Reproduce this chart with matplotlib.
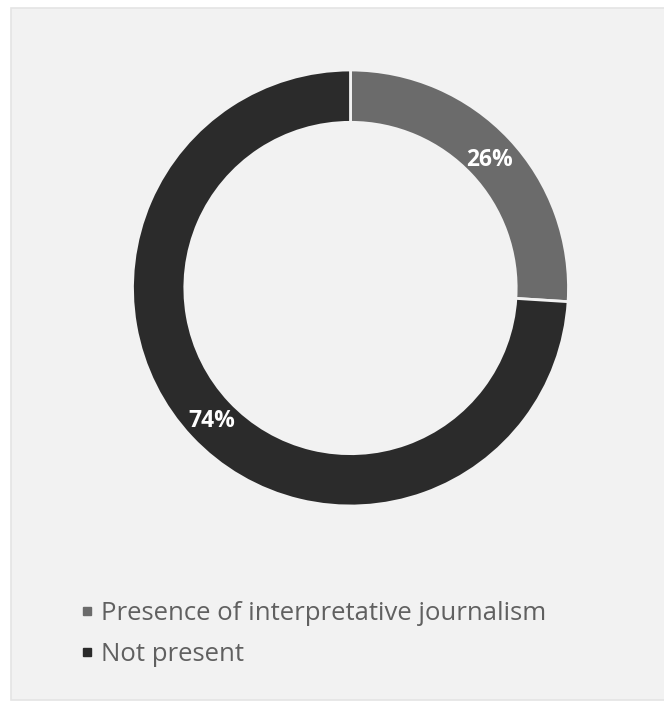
import matplotlib
matplotlib.use("Agg")
import matplotlib.pyplot as plt
from matplotlib.patches import Rectangle
from matplotlib.lines import Line2D
import numpy as np

# data
categories = ["Presence of interpretative journalism", "Not present"]
shares = [26, 74]
colors = ["#6b6b6b", "#2b2b2b"]

plt.rcParams["font.family"] = ["Open Sans", "DejaVu Sans"]

W, H = 664, 702
fig = plt.figure(figsize=(W / 100, H / 100), dpi=100)
fig.patch.set_facecolor("white")

# light grey chart area
fig.patches.append(Rectangle((11 / W, 1 - 700 / H), (W + 10) / W, (700 - 8) / H,
                             transform=fig.transFigure, facecolor="#f2f2f2",
                             edgecolor="#e4e4e4", linewidth=1.2, zorder=-5))

cx, cy, r = 350.5, 288, 218
ax = fig.add_axes([(cx - r) / W, 1 - (cy + r) / H, 2 * r / W, 2 * r / H])
ax.set_zorder(2)
ax.set_facecolor("none")

wedges, texts = ax.pie(shares, colors=colors, startangle=90, counterclock=False,
                       radius=1.0,
                       wedgeprops=dict(width=0.24, edgecolor="#f2f2f2", linewidth=2))
ax.set_xlim(-1, 1)
ax.set_ylim(-1, 1)
ax.set_aspect("equal")
ax.axis("off")

for w, s in zip(wedges, shares):
    ang = np.deg2rad((w.theta1 + w.theta2) / 2)
    rr = 0.875
    ax.text(rr * np.cos(ang), rr * np.sin(ang) - 0.01, f"{s}%", ha="center", va="center",
            color="white", fontsize=16.5, fontweight="bold")

handles = [Line2D([], [], marker="s", linestyle="none", markersize=6,
                  markerfacecolor=c, markeredgecolor=c) for c in colors]
leg = fig.legend(handles, categories, loc="upper left",
                 bbox_to_anchor=(70 / W, 1 - 591 / H), frameon=False,
                 fontsize=18.5, handlelength=0.5, handletextpad=0.3,
                 labelspacing=0.62, borderaxespad=0)
leg.set_zorder(3)
for t in leg.get_texts():
    t.set_color("#606060")

fig.savefig("out.png", dpi=100, facecolor=fig.get_facecolor())
